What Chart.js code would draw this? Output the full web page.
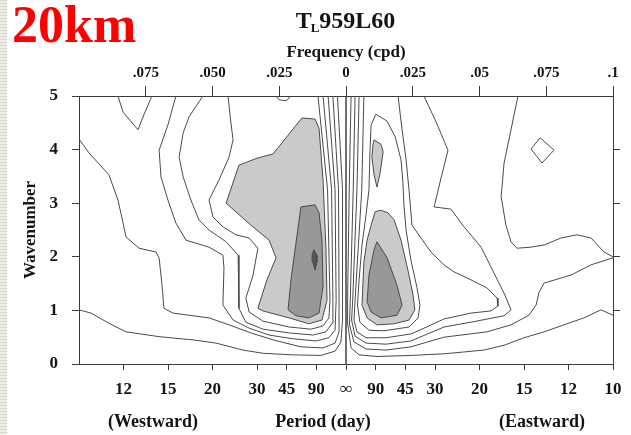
<!DOCTYPE html>
<html>
<head>
<meta charset="utf-8">
<script src="https://cdn.jsdelivr.net/npm/chart.js@4.4.1/dist/chart.umd.min.js"></script>
<style>
  html, body { margin: 0; padding: 0; background: #fff; }
  #wrap { position: relative; width: 631px; height: 435px; overflow: hidden; background: #fff; }
  canvas { position: absolute; left: 0; top: 0; }
  #edge {
    position: absolute; left: 0; top: 0; width: 7px; height: 435px;
    background: repeating-linear-gradient(to bottom, #d5d7cf 0px, #d5d7cf 1.5px, #eceee8 1.5px, #eceee8 3px);
  }
</style>
</head>
<body>
<div id="wrap">
  <canvas id="chart" width="631" height="435"></canvas>
  <div id="edge"></div>
</div>
<script>
// Wavenumber-frequency power spectrum, T_L959L60 run.
// Every contour is a list of [frequency (cpd), zonal wavenumber] vertices.

// Bottom axis: period in days, westward (negative frequency) and eastward.
const westPeriods = [12, 15, 20, 30, 45, 90];
const eastPeriods = [90, 45, 30, 20, 15, 12, 10];
// Top axis: frequency in cycles per day.
const freqTicks  = [-0.075, -0.05, -0.025, 0, 0.025, 0.05, 0.075, 0.1];
const freqLabels = ['.075', '.050', '.025', '0', '.025', '.05', '.075', '.1'];

// --- westward contours (outermost level first) ---
const contourW1 = [[-0.1,1.01],[-0.0955,0.95],[-0.0888,0.76],[-0.0824,0.60],[-0.0700,0.51],[-0.0573,0.45],[-0.0487,0.39],[-0.0386,0.26],[-0.0311,0.20],[-0.0199,0.17],[-0.0094,0.16],[-0.0041,0.24],[-0.0019,0.41],[-0.0013,0.82],[-0.0013,3.25],[-0.0032,5]];
const contourW2 = [[-0.1,4.20],[-0.0963,3.94],[-0.0888,3.53],[-0.0854,3.06],[-0.0835,2.63],[-0.0824,2.37],[-0.0775,2.16],[-0.0712,2.09],[-0.0700,1.98],[-0.0689,1.47],[-0.0682,1.04],[-0.0648,0.95],[-0.0513,0.86],[-0.0438,0.73],[-0.0356,0.58],[-0.0273,0.45],[-0.0169,0.32],[-0.0086,0.30],[-0.0041,0.39],[-0.0026,0.60],[-0.0026,1.19],[-0.0028,3.25],[-0.0049,5]];
const contourW3 = [[-0.0637,5],[-0.0667,4.46],[-0.0700,3.99],[-0.0693,3.49],[-0.0667,3.06],[-0.0637,2.63],[-0.0599,2.31],[-0.0513,2.18],[-0.0461,2.03],[-0.0457,1.79],[-0.0461,1.10],[-0.0423,0.82],[-0.0363,0.67],[-0.0288,0.54],[-0.0199,0.47],[-0.0112,0.43],[-0.0064,0.49],[-0.0041,0.63],[-0.0037,1.19],[-0.0041,3.25],[-0.0067,5]];
const contourW4 = [[-0.0536,5],[-0.0588,4.61],[-0.0610,4.31],[-0.0625,3.86],[-0.0610,3.49],[-0.0581,3.06],[-0.0551,2.69],[-0.0513,2.50],[-0.0449,2.28],[-0.0404,2.03],[-0.0401,1.79],[-0.0401,1.04],[-0.0375,0.78],[-0.0311,0.65],[-0.0213,0.58],[-0.0124,0.54],[-0.0075,0.60],[-0.0052,0.76],[-0.0049,1.19],[-0.0054,3.25],[-0.0086,5]];
const contourW5 = [[-0.0442,5],[-0.0431,4.50],[-0.0423,4.18],[-0.0438,3.86],[-0.0476,3.43],[-0.0513,3.06],[-0.0498,2.74],[-0.0461,2.56],[-0.0412,2.41],[-0.0363,2.35],[-0.0330,2.16],[-0.0348,1.66],[-0.0375,1.23],[-0.0363,0.97],[-0.0311,0.80],[-0.0213,0.69],[-0.0131,0.65],[-0.0086,0.71],[-0.0064,0.86],[-0.0060,1.19],[-0.0069,3.25],[-0.0105,5]];
const westDip   = [[-0.0854,5],[-0.0835,4.70],[-0.0779,4.37],[-0.0757,4.65],[-0.0727,5]];
const westNotch = [[-0.0262,5],[-0.0251,4.93],[-0.0225,4.91],[-0.0213,4.96],[-0.0213,5]];
const westShadeLight = [[-0.0449,3.00],[-0.0401,3.71],[-0.0333,3.84],[-0.0273,3.92],[-0.0165,4.59],[-0.0116,4.57],[-0.0101,4.40],[-0.0086,3.43],[-0.0075,2.13],[-0.0071,1.19],[-0.0090,0.82],[-0.0139,0.75],[-0.0213,0.86],[-0.0311,0.99],[-0.0330,1.04],[-0.0296,1.57],[-0.0262,1.98],[-0.0288,2.31],[-0.0356,2.59],[-0.0449,3.00]];
const westShadeDark  = [[-0.0217,1.01],[-0.0206,1.57],[-0.0169,2.93],[-0.0116,2.97],[-0.0101,2.82],[-0.0090,2.31],[-0.0086,1.44],[-0.0101,0.95],[-0.0139,0.86],[-0.0187,0.90],[-0.0217,1.01]];
const westPeak       = [[-0.0120,2.13],[-0.0109,2.03],[-0.0109,1.90],[-0.0116,1.75],[-0.0124,1.90],[-0.0127,2.03],[-0.0120,2.13]];

// --- eastward contours ---
const contourE1 = [[0.1,0.91],[0.0955,1.01],[0.0891,0.86],[0.0816,0.73],[0.0742,0.60],[0.0667,0.49],[0.0592,0.35],[0.0517,0.26],[0.0367,0.19],[0.0243,0.16],[0.0116,0.14],[0.0049,0.17],[0.0019,0.30],[0.0007,0.73],[0.0006,1.19],[0.0012,3.25],[0.0019,5]];
const contourE2 = [[0.1,1.98],[0.0918,1.85],[0.0843,1.66],[0.0742,1.51],[0.0723,1.34],[0.0712,1.10],[0.0685,0.91],[0.0618,0.73],[0.0528,0.60],[0.0367,0.50],[0.0243,0.32],[0.0150,0.26],[0.0075,0.28],[0.0030,0.41],[0.0013,0.73],[0.0016,1.19],[0.0027,3.25],[0.0034,5]];
const contourE3 = [[0.0292,5],[0.0337,4.52],[0.0382,3.99],[0.0356,3.47],[0.0330,2.93],[0.0393,2.89],[0.0442,2.56],[0.0506,2.18],[0.0554,1.70],[0.0592,1.32],[0.0618,1.01],[0.0592,0.90],[0.0468,0.78],[0.0367,0.69],[0.0243,0.43],[0.0150,0.37],[0.0075,0.39],[0.0034,0.52],[0.0021,0.82],[0.0025,1.19],[0.0041,3.25],[0.0049,5]];
const contourE4 = [[0.0195,5],[0.0210,4.37],[0.0225,3.81],[0.0236,3.25],[0.0247,2.59],[0.0281,2.35],[0.0318,2.09],[0.0367,1.85],[0.0404,1.72],[0.0468,1.57],[0.0528,1.42],[0.0566,1.23],[0.0569,1.08],[0.0543,0.99],[0.0468,0.95],[0.0367,0.84],[0.0311,0.71],[0.0243,0.56],[0.0150,0.49],[0.0075,0.49],[0.0041,0.60],[0.0030,0.82],[0.0034,1.19],[0.0059,3.25],[0.0067,5]];
const contourE5 = [[0.0112,4.66],[0.0154,4.53],[0.0184,4.24],[0.0206,3.81],[0.0213,3.40],[0.0217,2.97],[0.0225,2.50],[0.0243,1.94],[0.0266,1.42],[0.0277,1.10],[0.0270,0.86],[0.0236,0.69],[0.0142,0.62],[0.0086,0.63],[0.0052,0.78],[0.0043,1.10],[0.0049,1.57],[0.0060,2.22],[0.0075,2.78],[0.0086,3.25],[0.0090,3.99],[0.0094,4.46],[0.0112,4.66]];
const contourE6 = [[0.0644,5],[0.0618,4.37],[0.0592,3.75],[0.0581,3.12],[0.0599,2.59],[0.0618,2.28],[0.0640,2.16],[0.0693,2.18],[0.0742,2.22],[0.0805,2.35],[0.0865,2.41],[0.0918,2.35],[0.0966,2.09],[0.1,2.0]];
const eastIsland = [[0.0693,4.01],[0.0727,4.22],[0.0779,3.99],[0.0734,3.75],[0.0693,4.01]];
const eastShadeLight = [[0.0109,2.84],[0.0131,2.87],[0.0157,2.82],[0.0180,2.69],[0.0206,2.31],[0.0232,1.75],[0.0251,1.29],[0.0258,1.01],[0.0236,0.82],[0.0180,0.75],[0.0116,0.73],[0.0079,0.86],[0.0060,1.10],[0.0067,1.90],[0.0079,2.31],[0.0094,2.59],[0.0109,2.84]];
const eastShadeSpot  = [[0.0105,4.18],[0.0131,4.10],[0.0139,3.96],[0.0127,3.54],[0.0116,3.30],[0.0105,3.53],[0.0097,3.86],[0.0101,4.09],[0.0105,4.18]];
const eastShadeDark  = [[0.0116,2.28],[0.0154,1.98],[0.0191,1.47],[0.0210,1.10],[0.0191,0.91],[0.0131,0.86],[0.0094,0.97],[0.0079,1.16],[0.0086,1.66],[0.0105,2.13],[0.0116,2.28]];

// Zero-frequency divider.
const zeroFrequency = [[0,0],[0,5]];

// ---------------------------------------------------------------
const INK = '#4a4a4a';
const LIGHT = '#cacaca';
const DARK = '#989898';
const PEAK = '#555555';
const SERIF = '"Liberation Serif", "Times New Roman", serif';
const font = (size) => ({ family: SERIF, size, weight: 'bold' });

const toXY = pts => pts.map(([x, y]) => ({ x, y }));
const contour = pts => ({ data: toXY(pts), borderColor: INK, borderWidth: 1, pointRadius: 0, fill: false, tension: 0, order: 10 });
const shaded = (pts, color, order) => ({ data: toXY(pts), borderColor: INK, borderWidth: 1, backgroundColor: color, fill: 'shape', pointRadius: 0, tension: 0, order });

const periodValues = [...westPeriods.map(p => -1 / p), 0, ...eastPeriods.map(p => 1 / p)];
const periodLabels = [...westPeriods.map(String), '\u221E', ...eastPeriods.map(String)];

const datasets = [
  shaded(westShadeLight, LIGHT, 30),
  shaded(eastShadeLight, LIGHT, 30),
  shaded(eastShadeSpot, LIGHT, 30),
  shaded(westShadeDark, DARK, 20),
  shaded(eastShadeDark, DARK, 20),
  shaded(westPeak, PEAK, 15),
  ...[contourW1, contourW2, contourW3, contourW4, contourW5, westDip, westNotch,
      contourE1, contourE2, contourE3, contourE4, contourE5, contourE6, eastIsland].map(contour),
  { data: toXY(zeroFrequency), borderColor: '#333', borderWidth: 1.4, pointRadius: 0, fill: false, order: 5 }
];

const frameGrid = len => ({ drawOnChartArea: false, drawTicks: true, tickLength: len, color: '#3a3a3a', lineWidth: 1 });
const frameBorder = { display: true, color: '#3a3a3a', width: 1 };

// Titles and captions drawn in canvas space after the chart.
const captions = {
  id: 'captions',
  afterDraw(chart) {
    const { ctx, chartArea: a } = chart;
    ctx.save();
    ctx.fillStyle = '#ff0000';
    ctx.font = 'bold 52px ' + SERIF;
    ctx.textAlign = 'left';
    ctx.textBaseline = 'alphabetic';
    ctx.fillText('20km', 12, 42);

    ctx.fillStyle = '#141414';
    const big = 'bold 24px ' + SERIF, sub = 'bold 13px ' + SERIF;
    ctx.font = big; const wT = ctx.measureText('T').width;
    ctx.font = sub; const wL = ctx.measureText('L').width;
    ctx.font = big; const wR = ctx.measureText('959L60').width;
    let x0 = 346 - (wT + wL + wR) / 2;
    ctx.fillText('T', x0, 28);
    ctx.font = sub; ctx.fillText('L', x0 + wT - 1, 32);
    ctx.font = big; ctx.fillText('959L60', x0 + wT + wL - 1, 28);

    ctx.textAlign = 'center';
    ctx.textBaseline = 'middle';
    ctx.font = 'bold 17px ' + SERIF;
    ctx.fillText('Frequency (cpd)', (a.left + a.right) / 2, 53);

    ctx.save();
    ctx.translate(31, (a.top + a.bottom) / 2);
    ctx.rotate(-Math.PI / 2);
    ctx.fillText('Wavenumber', 0, 0);
    ctx.restore();

    ctx.font = 'bold 18px ' + SERIF;
    ctx.fillText('(Westward)', 153, 422);
    ctx.fillText('Period (day)', 323, 422);
    ctx.fillText('(Eastward)', 542, 422);
    ctx.restore();
  }
};

new Chart(document.getElementById('chart'), {
  type: 'line',
  data: { datasets },
  plugins: [captions],
  options: {
    responsive: false,
    animation: false,
    devicePixelRatio: 1,
    layout: { padding: 0 },
    plugins: { legend: { display: false }, tooltip: { enabled: false }, title: { display: false } },
    scales: {
      x: {
        type: 'linear', position: 'bottom', min: -0.1, max: 0.1,
        afterBuildTicks: s => { s.ticks = periodValues.map(v => ({ value: v })); },
        afterFit: s => { s.height = 71; },
        ticks: { autoSkip: false, maxRotation: 0, minRotation: 0, font: font(17), color: '#141414', padding: 9,
                 callback: (v, i) => periodLabels[i] },
        grid: frameGrid(6), border: frameBorder
      },
      x2: {
        type: 'linear', position: 'top', min: -0.1, max: 0.1,
        afterBuildTicks: s => { s.ticks = freqTicks.map(v => ({ value: v })); },
        afterFit: s => { s.height = 96; },
        ticks: { autoSkip: false, maxRotation: 0, minRotation: 0, font: font(15), color: '#141414', padding: 4,
                 callback: (v, i) => freqLabels[i] },
        grid: frameGrid(10), border: frameBorder
      },
      y: {
        type: 'linear', position: 'left', min: 0, max: 5,
        afterFit: s => { s.width = 79; },
        ticks: { stepSize: 1, font: font(17), color: '#141414', padding: 14 },
        grid: frameGrid(7), border: frameBorder
      },
      y2: {
        type: 'linear', position: 'right', min: 0, max: 5,
        afterBuildTicks: s => { s.ticks = [1, 2, 3, 4].map(v => ({ value: v })); },
        afterFit: s => { s.width = 18; },
        ticks: { callback: () => '' },
        grid: frameGrid(7), border: frameBorder
      }
    }
  }
});
</script>
</body>
</html>
